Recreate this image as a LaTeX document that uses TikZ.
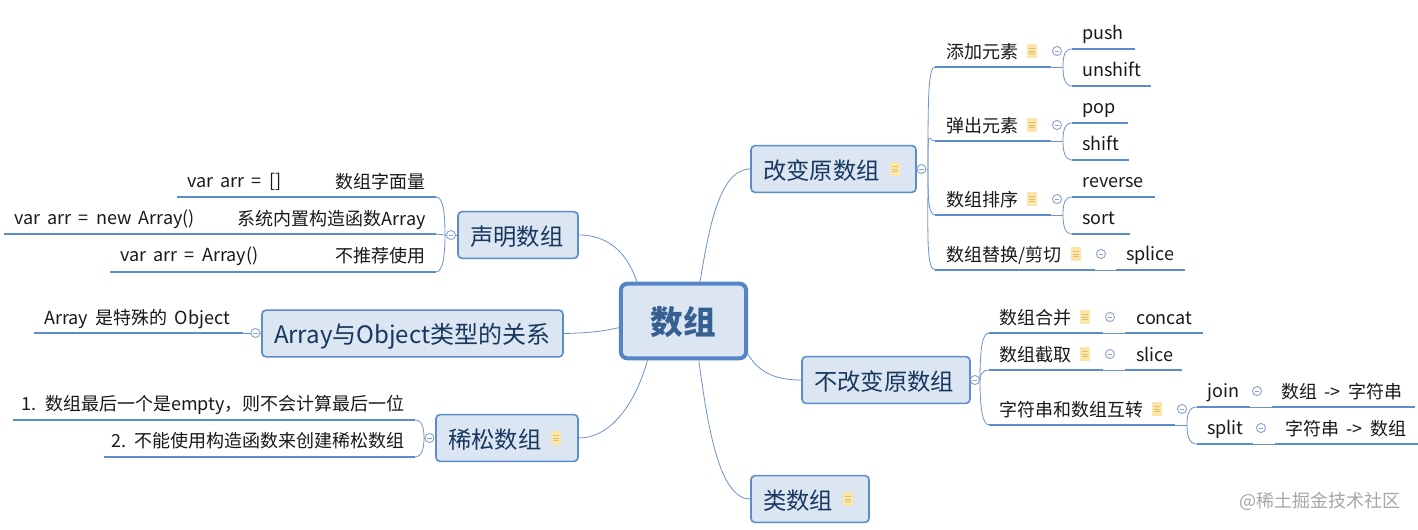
\documentclass[tikz,border=0pt]{standalone}
\usepackage{fontspec}
\setmainfont{Noto Sans CJK SC}[WordSpace=1.8]
\definecolor{boxfill}{HTML}{DCE6F2}
\definecolor{boxline}{HTML}{5B8CCB}
\definecolor{rootline}{HTML}{5585C5}
\definecolor{conn}{HTML}{6E93C9}
\definecolor{topictext}{HTML}{17375E}
\definecolor{roottext}{HTML}{376092}
\definecolor{notefill}{HTML}{FBE6AC}
\definecolor{notemark}{HTML}{E3BE6A}
\definecolor{foldline}{HTML}{8CA2D2}
\definecolor{wm}{HTML}{A6A6A6}
\tikzset{
  rootbox/.style={draw=rootline,line width=3pt,fill=boxfill,rounded corners=5pt,minimum width=94pt,minimum height=56pt,inner sep=0pt,text=roottext,text height=22pt,text depth=1.5pt,font=\fontsize{24.5}{25}\selectfont\bfseries},
  topicbox/.style={draw=boxline,line width=1.2pt,fill=boxfill,rounded corners=3pt,minimum height=35pt,inner xsep=9pt,inner ysep=0pt,align=left,text=topictext,text height=20pt,text depth=4.8pt,font=\fontsize{17.5}{20}\selectfont},
  leaf/.style={inner sep=0pt,text=black!90,font=\fontsize{13.5}{16}\selectfont},
  uline/.style={draw=boxline,line width=2.1pt},
  thin link/.style={draw=conn,line width=0.6pt},
  branch/.style={draw=conn,line width=0.6pt},
  fold/.style={circle,draw=foldline,line width=0.7pt,fill=white,minimum size=6.8pt,inner sep=0pt,path picture={\draw[foldline,line width=0.6pt] ([xshift=-1.8pt]path picture bounding box.center)--([xshift=1.8pt]path picture bounding box.center);}},
  noteicon/.style={rectangle,fill=notefill,minimum width=8pt,minimum height=11pt,inner sep=0pt,path picture={\draw[notemark,line width=0.6pt]
    ([xshift=-2.4pt,yshift=1.8pt]path picture bounding box.center)--([xshift=2.4pt,yshift=1.8pt]path picture bounding box.center)
    ([xshift=-2.4pt]path picture bounding box.center)--([xshift=2.4pt]path picture bounding box.center)
    ([xshift=-2.4pt,yshift=-1.8pt]path picture bounding box.center)--([xshift=2.4pt,yshift=-1.8pt]path picture bounding box.center);}},
}
% #1 name, #2 left x, #3 right x, #4 y
\newcommand\leafline[4]{\coordinate (#1l) at (#2,#4);\coordinate (#1r) at (#3,#4);\draw[uline] (#1l)--(#1r);}
\begin{document}
\begin{tikzpicture}[x=0.75pt,y=-0.75pt]
\useasboundingbox (0,0) rectangle (1418,529);
\fill[white] (0,0) rectangle (1418,529);

% main topics
\node[rootbox] (root) at (683.5,321) {数组};
\node[topicbox,text width=105.75pt] (change) at (833.5,169) {改变原数组};
\node[topicbox,text width=108pt] (nochange) at (886,380) {不改变原数组};
\node[topicbox,text width=70.5pt] (like) at (810,499) {类数组};
\node[topicbox,text width=72pt] (decl) at (518,235) {声明数组};
\node[topicbox,text width=207.75pt,font=\fontsize{18}{20}\selectfont] (rel) at (412.5,333.5) {Array与Object类型的关系};
\node[topicbox,text width=88.5pt] (sparse) at (507,438) {稀松数组};

% root connectors
\draw[branch] (change.west) .. controls (718,169) and (708,235) .. ([xshift=12.4pt]root.north);
\draw[branch] (nochange.west) .. controls (780,380) and (760,375) .. ([yshift=-25pt]root.east);
\draw[branch] (like.west) .. controls (720,499) and (708,430) .. ([xshift=11.5pt]root.south);
\draw[branch] (decl.east) .. controls (610,235) and (628,255) .. ([xshift=-35pt]root.north);
\draw[branch] (rel.east) .. controls (585,333) and (600,332) .. ([yshift=-5pt]root.west);
\draw[branch] (sparse.east) .. controls (610,438) and (635,405) .. ([xshift=-27pt]root.south);

% fold markers on topics
\node[fold] (fchange) at (921.5,169) {};
\node[fold] (fnochange) at (975,380) {};
\node[fold] (fdecl) at (451,235) {};
\node[fold] (frel) at (255.5,333) {};
\node[fold] (fsparse) at (429.5,438) {};
\node[noteicon] (nchange) at (895,169) {};
\node[noteicon] (nsparse) at (556,438) {};
\node[noteicon] (nlike) at (848,499) {};
\draw[thin link] (change.east)--(fchange);
\draw[thin link] (nochange.east)--(fnochange);
\draw[thin link] (decl.west)--(fdecl);
\draw[thin link] (rel.west)--(frel);
\draw[thin link] (sparse.west)--(fsparse);

% ---- change branch
\leafline{add}{935}{1051}{67}
\leafline{popg}{935}{1051}{141}
\leafline{order}{935}{1051}{215}
\leafline{repl}{935}{1095}{270}
\node[leaf,anchor=base west] (tadd) at (946,58) {添加元素};
\node[leaf,anchor=base west] (tpopg) at (946,132) {弹出元素};
\node[leaf,anchor=base west] (torder) at (946,206) {数组排序};
\node[leaf,anchor=base west] (trepl) at (946,261) {数组替换/剪切};
\foreach \n/\x/\y in {add/1032/51,popg/1032/125,order/1032/199,repl/1076/254} \node[noteicon] (n\n) at (\x,\y) {};
\foreach \n/\x/\y in {add/1057/51,popg/1057/125,order/1057/199,repl/1101/254} \node[fold] (f\n) at (\x,\y) {};
\coordinate (trunkA) at (928,169);
\draw[branch] (fchange.east)--(trunkA);
\draw[branch] (trunkA) .. controls (928,100) and (928,67) .. (addl);
\draw[branch] (trunkA) .. controls (928,125) and (928,141) .. (popgl);
\draw[branch] (trunkA) .. controls (928,195) and (928,215) .. (orderl);
\draw[branch] (trunkA) .. controls (928,230) and (926,270) .. (repll);

\leafline{push}{1072}{1135}{49}
\leafline{unshift}{1072}{1151}{86}
\leafline{pop}{1072}{1128}{123}
\leafline{shift}{1072}{1129}{160}
\leafline{reverse}{1072}{1155}{197}
\leafline{sort}{1072}{1130}{234}
\leafline{splice}{1116}{1185}{270}
\node[leaf,anchor=base west] (tpush) at (1082,39) {push};
\node[leaf,anchor=base west] (tunshift) at (1082,76) {unshift};
\node[leaf,anchor=base west] (tpop) at (1082,113) {pop};
\node[leaf,anchor=base west] (tshift) at (1082,150) {shift};
\node[leaf,anchor=base west] (treverse) at (1082,187) {reverse};
\node[leaf,anchor=base west] (tsort) at (1082,224) {sort};
\node[leaf,anchor=base west] (tsplice) at (1126,260) {splice};
\coordinate (jA) at (1063,67);
\coordinate (jB) at (1063,141);
\coordinate (jC) at (1063,215);
\draw[thin link] (addr)--(jA);
\draw[thin link] (popgr)--(jB);
\draw[thin link] (orderr)--(jC);
\draw[thin link] (replr)--(splicel);
\draw[branch] (jA) .. controls (1063,55) and (1065,49) .. (pushl);
\draw[branch] (jA) .. controls (1063,78) and (1065,86) .. (unshiftl);
\draw[branch] (jB) .. controls (1063,129) and (1065,123) .. (popl);
\draw[branch] (jB) .. controls (1063,152) and (1065,160) .. (shiftl);
\draw[branch] (jC) .. controls (1063,203) and (1065,197) .. (reversel);
\draw[branch] (jC) .. controls (1063,226) and (1065,234) .. (sortl);

% ---- nochange branch
\leafline{merge}{989}{1103}{333}
\leafline{cut}{989}{1103}{370}
\leafline{conv}{989}{1175}{425}
\leafline{concat}{1125}{1203}{333}
\leafline{slice}{1125}{1182}{370}
\node[leaf,anchor=base west] (tmerge) at (999,324) {数组合并};
\node[leaf,anchor=base west] (tcut) at (999,361) {数组截取};
\node[leaf,anchor=base west] (tconv) at (999,416) {字符串和数组互转};
\node[leaf,anchor=base west] (tconcat) at (1136,324) {concat};
\node[leaf,anchor=base west] (tslice) at (1136,361) {slice};
\foreach \n/\x/\y in {merge/1085/317,cut/1085/354,conv/1157/409} \node[noteicon] (n\n) at (\x,\y) {};
\foreach \n/\x/\y in {merge/1110/317,cut/1110/354,conv/1182/409,join/1257/391,split/1261/428} \node[fold] (f\n) at (\x,\y) {};
\coordinate (trunkB) at (980,380);
\draw[branch] (fnochange.east)--(trunkB);
\draw[branch] (trunkB) .. controls (980,350) and (982,333) .. (mergel);
\draw[branch] (trunkB) .. controls (980,375) and (982,370) .. (cutl);
\draw[branch] (trunkB) .. controls (980,405) and (982,425) .. (convl);
\draw[thin link] (merger)--(concatl);
\draw[thin link] (cutr)--(slicel);

\leafline{join}{1197}{1250}{407}
\leafline{split}{1197}{1253}{444}
\leafline{jres}{1272}{1415}{407}
\leafline{sres}{1275}{1418}{444}
\node[leaf,anchor=base west] (tjoin) at (1207,397) {join};
\node[leaf,anchor=base west] (tsplit) at (1207,434) {split};
\node[leaf,anchor=base west] (tjres) at (1281,398) {数组 -> 字符串};
\node[leaf,anchor=base west] (tsres) at (1285,435) {字符串 -> 数组};
\coordinate (jD) at (1187,425);
\draw[thin link] (convr)--(jD);
\draw[branch] (jD) .. controls (1187,414) and (1189,407) .. (joinl);
\draw[branch] (jD) .. controls (1187,436) and (1189,444) .. (splitl);
\draw[thin link] (joinr)--(jresl);
\draw[thin link] (splitr)--(sresl);

% ---- declaration branch
\leafline{da}{177}{436}{197}
\leafline{db}{4}{436}{234}
\leafline{dc}{110}{436}{272}
\node[leaf,anchor=base west] (tda) at (187,187) {var arr = []};
\node[leaf,anchor=base west] (tdb) at (14,224) {var arr = new Array()};
\node[leaf,anchor=base west] (tdc) at (120,261) {var arr = Array()};
\node[leaf,anchor=base east] (lda) at (426,188) {数组字面量};
\node[leaf,anchor=base east] (ldb) at (426,225) {系统内置构造函数Array};
\node[leaf,anchor=base east] (ldc) at (426,262) {不推荐使用};
\coordinate (trunkC) at (445,235);
\draw[branch] (fdecl.west)--(trunkC);
\draw[branch] (trunkC) .. controls (445,212) and (443,197) .. (dar);
\draw[thin link] (trunkC)--(dbr);
\draw[branch] (trunkC) .. controls (445,255) and (443,272) .. (dcr);

% ---- relation branch
\leafline{ra}{34}{243}{333}
\node[leaf,anchor=base west] (tra) at (44,324) {Array 是特殊的 Object};
\draw[thin link] (rar)--(frel.west);

% ---- sparse branch
\leafline{sa}{13}{415}{420}
\leafline{sb}{104}{415}{457}
\node[leaf,anchor=base east] (tsa) at (405,410) {1. 数组最后一个是empty，则不会计算最后一位};
\node[leaf,anchor=base east] (tsb) at (405,447) {2. 不能使用构造函数来创建稀松数组};
\coordinate (trunkD) at (424,438);
\draw[branch] (fsparse.west)--(trunkD);
\draw[branch] (trunkD) .. controls (424,428) and (422,420) .. (sar);
\draw[branch] (trunkD) .. controls (424,448) and (422,457) .. (sbr);

% watermark
\node[inner sep=0pt,anchor=base east,text=wm,font=\fontsize{13.5}{16}\selectfont] (mark) at (1401,507) {@稀土掘金技术社区};
\end{tikzpicture}
\end{document}
